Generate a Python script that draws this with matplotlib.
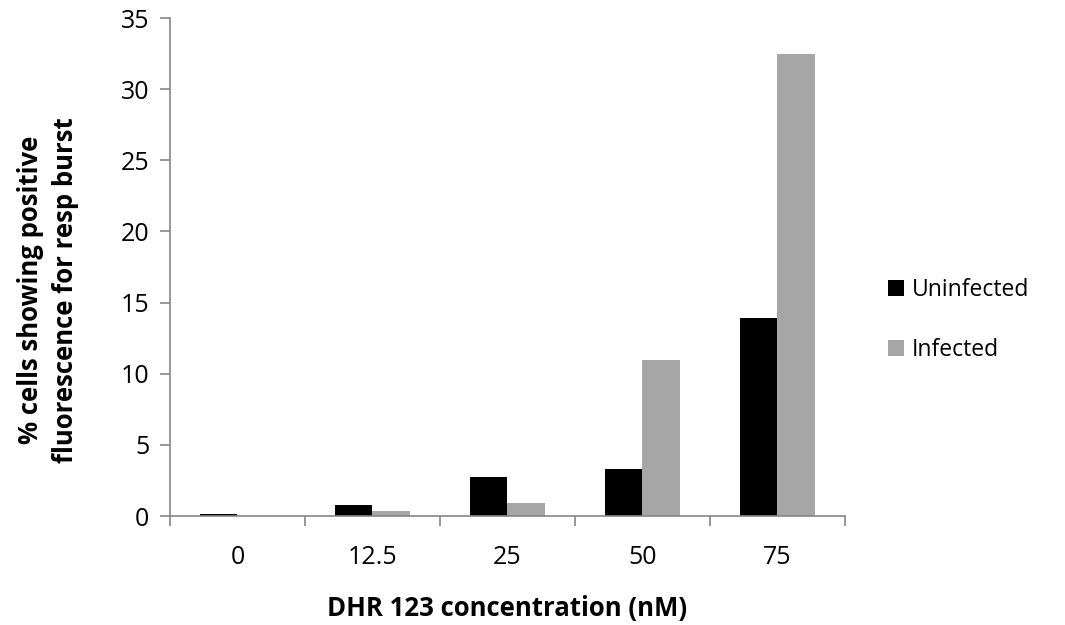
import matplotlib
matplotlib.use("Agg")
import matplotlib.pyplot as plt
from matplotlib.ticker import FixedLocator
import numpy as np

plt.rcParams['font.family'] = ['Open Sans', 'DejaVu Sans']

categories = ["0", "12.5", "25", "50", "75"]
uninfected = [0.15, 0.77, 2.75, 3.3, 13.9]
infected = [0.0, 0.35, 0.9, 10.95, 32.5]
yticks = [0, 5, 10, 15, 20, 25, 30, 35]

axis_col = "#868686"
fig = plt.figure(figsize=(10.65, 6.25), dpi=100)
ax = fig.add_axes([0.1596, 0.1744, 0.6338, 0.7968])

x = np.arange(len(categories))
w = 0.28
ax.bar(x - w / 2, uninfected, width=w, color="black", label="Uninfected")
ax.bar(x + w / 2, infected, width=w, color="#a6a6a6", label="Infected")

ax.set_xlim(-0.5, len(categories) - 0.5)
ax.set_ylim(0, 35)
ax.set_yticks(yticks)
ax.set_xticks(x)
ax.set_xticklabels(categories)
ax.tick_params(axis="x", length=0, pad=21, labelsize=18)
ax.xaxis.set_minor_locator(FixedLocator(np.arange(-0.5, len(categories), 1)))
ax.tick_params(axis="x", which="minor", length=7, width=1.2, color=axis_col)
ax.tick_params(axis="y", length=7, width=1.2, color=axis_col, labelsize=18, pad=8)

for s in ["top", "right"]:
    ax.spines[s].set_visible(False)
for s in ["left", "bottom"]:
    ax.spines[s].set_color(axis_col)
    ax.spines[s].set_linewidth(1.2)

ax.set_xlabel("DHR 123 concentration (nM)", fontsize=18.5, fontweight="bold", labelpad=18)
ax.set_ylabel("% cells showing positive\nfluorescence for resp burst", fontsize=18.5,
              fontweight="bold", linespacing=1.35)
ax.yaxis.set_label_coords(-0.135, 0.454)

ax.legend(loc="center left", bbox_to_anchor=(1.033, 0.394), frameon=False, fontsize=16.5,
          handlelength=0.7, handleheight=0.7, handletextpad=0.35, labelspacing=1.55)

fig.savefig("out.png", dpi=100)
